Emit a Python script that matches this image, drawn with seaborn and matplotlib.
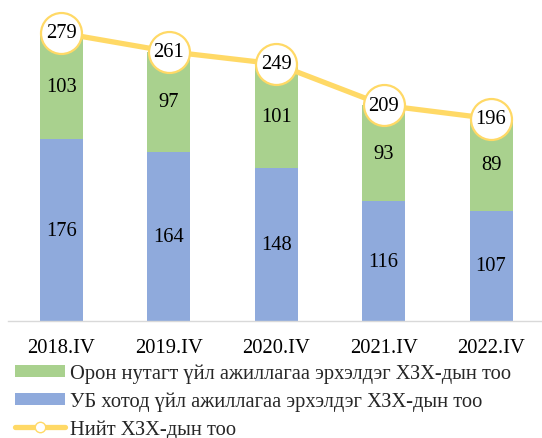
import numpy as np
import pandas as pd
import seaborn as sns
import matplotlib.pyplot as plt
from matplotlib.patches import Patch
from matplotlib.lines import Line2D

# --- Data ---
periods = ['2018.IV', '2019.IV', '2020.IV', '2021.IV', '2022.IV']
ub_counts = [176, 164, 148, 116, 107]
rural_counts = [103, 97, 101, 93, 89]
total_counts = [279, 261, 249, 209, 196]

labels_rural = 'Орон нутагт үйл ажиллагаа эрхэлдэг ХЗХ-дын тоо'
labels_ub = 'УБ хотод үйл ажиллагаа эрхэлдэг ХЗХ-дын тоо'
labels_total = 'Нийт ХЗХ-дын тоо'

# --- Style ---
GREEN = '#A9D18E'
BLUE = '#8FAADC'
YELLOW = '#FFD966'
FS = 14.8

sns.set_style('white')
plt.rcParams['font.family'] = ['Liberation Serif', 'DejaVu Serif']

df = pd.DataFrame({'period': periods, 'ub': ub_counts,
                   'rural': rural_counts, 'total': total_counts})

fig = plt.figure(figsize=(5.42, 4.39), dpi=100)
W, H = 542, 439
ax = fig.add_axes([7.8 / W, 117 / H, (542 - 7.8) / W, (322 - 2) / H])

# stacked bars: draw total in green, then UB part on top in blue
sns.barplot(data=df, x='period', y='total', color=GREEN, width=0.4,
            saturation=1, ax=ax, edgecolor='none')
sns.barplot(data=df, x='period', y='ub', color=BLUE, width=0.4,
            saturation=1, ax=ax, edgecolor='none')

x = np.arange(len(periods))
ax.plot(x, df['total'], color=YELLOW, lw=3.8, zorder=3,
        marker='o', markersize=29.5, markerfacecolor='white',
        markeredgecolor=YELLOW, markeredgewidth=1.6)

for i in x:
    ax.text(i, ub_counts[i] / 2, str(ub_counts[i]), ha='center', va='center',
            fontsize=FS, color='black')
    ax.text(i, ub_counts[i] + rural_counts[i] / 2, str(rural_counts[i]),
            ha='center', va='center', fontsize=FS, color='black')
    ax.text(i, total_counts[i], str(total_counts[i]), ha='center', va='center',
            fontsize=FS, color='black', zorder=4)

ax.set_xlim(-0.5, 4.474)
ax.set_ylim(0, 310)
ax.set_xlabel('')
ax.set_ylabel('')
ax.set_yticks([])
ax.tick_params(axis='x', length=0, pad=12, labelsize=FS, colors='black')
for s in ['top', 'right', 'left']:
    ax.spines[s].set_visible(False)
ax.spines['bottom'].set_color('#D9D9D9')
ax.spines['bottom'].set_linewidth(1.0)

handles = [
    Patch(facecolor=GREEN, edgecolor='none', label=labels_rural),
    Patch(facecolor=BLUE, edgecolor='none', label=labels_ub),
    Line2D([0], [0], color=YELLOW, lw=3.8, marker='o', markersize=7.5,
           markerfacecolor='white', markeredgecolor=YELLOW, label=labels_total),
]
fig.legend(handles=handles, loc='upper left', bbox_to_anchor=(15 / W, 1 - 365 / H),
           frameon=False, fontsize=FS, handlelength=2.45, handleheight=0.5,
           handletextpad=0.25, labelspacing=0.4, borderaxespad=0, borderpad=0)

fig.savefig('out.png', dpi=100)
